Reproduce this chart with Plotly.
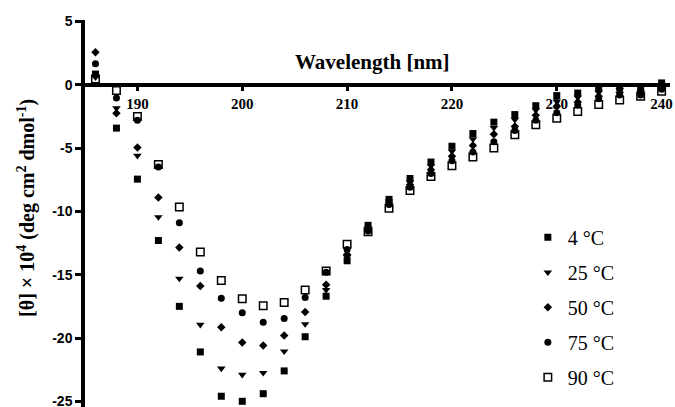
import plotly.graph_objects as go

wavelength = list(range(186, 241, 2))

t4 = [0.85, -3.42, -7.45, -12.3, -17.5, -21.1, -24.6, -25.0, -24.4, -22.6, -19.9, -16.7, -13.9, -11.1,
      -9.05, -7.4, -6.1, -4.85, -3.85, -2.95, -2.35, -1.65, -0.85, -0.65, -0.3, -0.2, -0.45, 0.15]
t25 = [0.6, -1.85, -5.6, -10.45, -15.3, -18.95, -22.4, -22.9, -22.75, -21.05, -18.9, -16.2, -13.6, -11.35,
       -9.2, -7.7, -6.4, -5.25, -4.3, -3.4, -2.75, -2.0, -1.3, -1.0, -0.6, -0.4, -0.55, -0.1]
t50 = [2.58, -2.25, -4.95, -8.9, -12.85, -15.9, -19.15, -20.35, -20.6, -19.8, -17.95, -15.8, -13.4, -11.5,
       -9.3, -7.9, -6.7, -5.65, -4.8, -3.9, -3.3, -2.4, -1.7, -1.35, -0.9, -0.6, -0.65, -0.2]
t75 = [1.66, -1.05, -2.8, -6.5, -10.9, -14.7, -16.85, -18.0, -18.75, -18.45, -16.8, -14.8, -13.0, -11.55,
       -9.45, -8.1, -7.0, -6.0, -5.3, -4.5, -3.6, -2.8, -2.2, -1.6, -1.1, -0.8, -0.8, -0.35]
t90 = [0.45, -0.45, -2.5, -6.3, -9.65, -13.2, -15.45, -16.9, -17.45, -17.2, -16.2, -14.7, -12.6, -11.6,
       -9.75, -8.35, -7.25, -6.4, -5.7, -5.0, -3.95, -3.15, -2.65, -2.1, -1.55, -1.2, -0.9, -0.5]

series_names = ["4 °C", "25 °C", "50 °C", "75 °C", "90 °C"]
series_values = [t4, t25, t50, t75, t90]
symbols = ["square", "triangle-down", "diamond", "circle", "square-open"]
sizes = [7, 7.5, 6.5, 7, 7.5]

x_ticks = [190, 200, 210, 220, 230, 240]
y_ticks = [-25, -20, -15, -10, -5, 0, 5]

x_range = [185, 240.8]
y_range = [-25.45, 5.12]

fig = go.Figure()
for i, (name, vals, sym, sz) in enumerate(zip(series_names, series_values, symbols, sizes)):
    fig.add_trace(go.Scatter(
        x=wavelength, y=vals, mode="markers", name=name, legendgroup=name,
        marker=dict(symbol=sym, size=sz, color="black",
                    line=dict(width=1.5 if sym.endswith("open") else 0, color="black")),
    ))

zero_frac = (0 - y_range[0]) / (y_range[1] - y_range[0])

fig.update_layout(
    width=675, height=407,
    margin=dict(l=85, r=5, t=20, b=0, autoexpand=False),
    paper_bgcolor="white", plot_bgcolor="white",
    showlegend=True,
    legend=dict(x=0.757, y=0.489, xanchor="left", yanchor="top",
                font=dict(family="Liberation Serif", size=20, color="black"),
                tracegroupgap=6, bgcolor="rgba(0,0,0,0)"),
    xaxis=dict(range=x_range, tickvals=x_ticks, ticktext=[str(v) for v in x_ticks],
               anchor="free", position=zero_frac, side="bottom",
               showline=True, linewidth=3.5, linecolor="black", showgrid=False, zeroline=False,
               ticks="outside", ticklen=4, tickwidth=3, tickcolor="black",
               tickfont=dict(family="Liberation Serif", size=15, color="black", weight="bold")),
    yaxis=dict(range=y_range, tickvals=y_ticks, ticktext=[str(v) for v in y_ticks],
               ticklabeloverflow="allow",
               showline=True, linewidth=3.5, linecolor="black", showgrid=False, zeroline=False,
               ticks="outside", ticklen=6, tickwidth=3, tickcolor="black",
               tickfont=dict(family="Liberation Sans", size=14, color="black", weight="bold")),
    annotations=[
        dict(text="Wavelength [nm]", xref="paper", yref="paper", x=0.492, y=(407 - 62) / 387,
             xanchor="center", yanchor="middle", showarrow=False,
             font=dict(family="Liberation Serif", size=21, color="black", weight="bold")),
        dict(text="[θ] × 10<sup>4</sup> (deg cm<sup>2</sup> dmol<sup>-1</sup>)", xref="paper", yref="paper",
             x=-0.101, y=(407 - 208) / 387, xanchor="center", yanchor="middle", textangle=-90, showarrow=False,
             font=dict(family="Liberation Serif", size=20, color="black", weight="bold")),
    ],
)

fig.write_html("out.html")
